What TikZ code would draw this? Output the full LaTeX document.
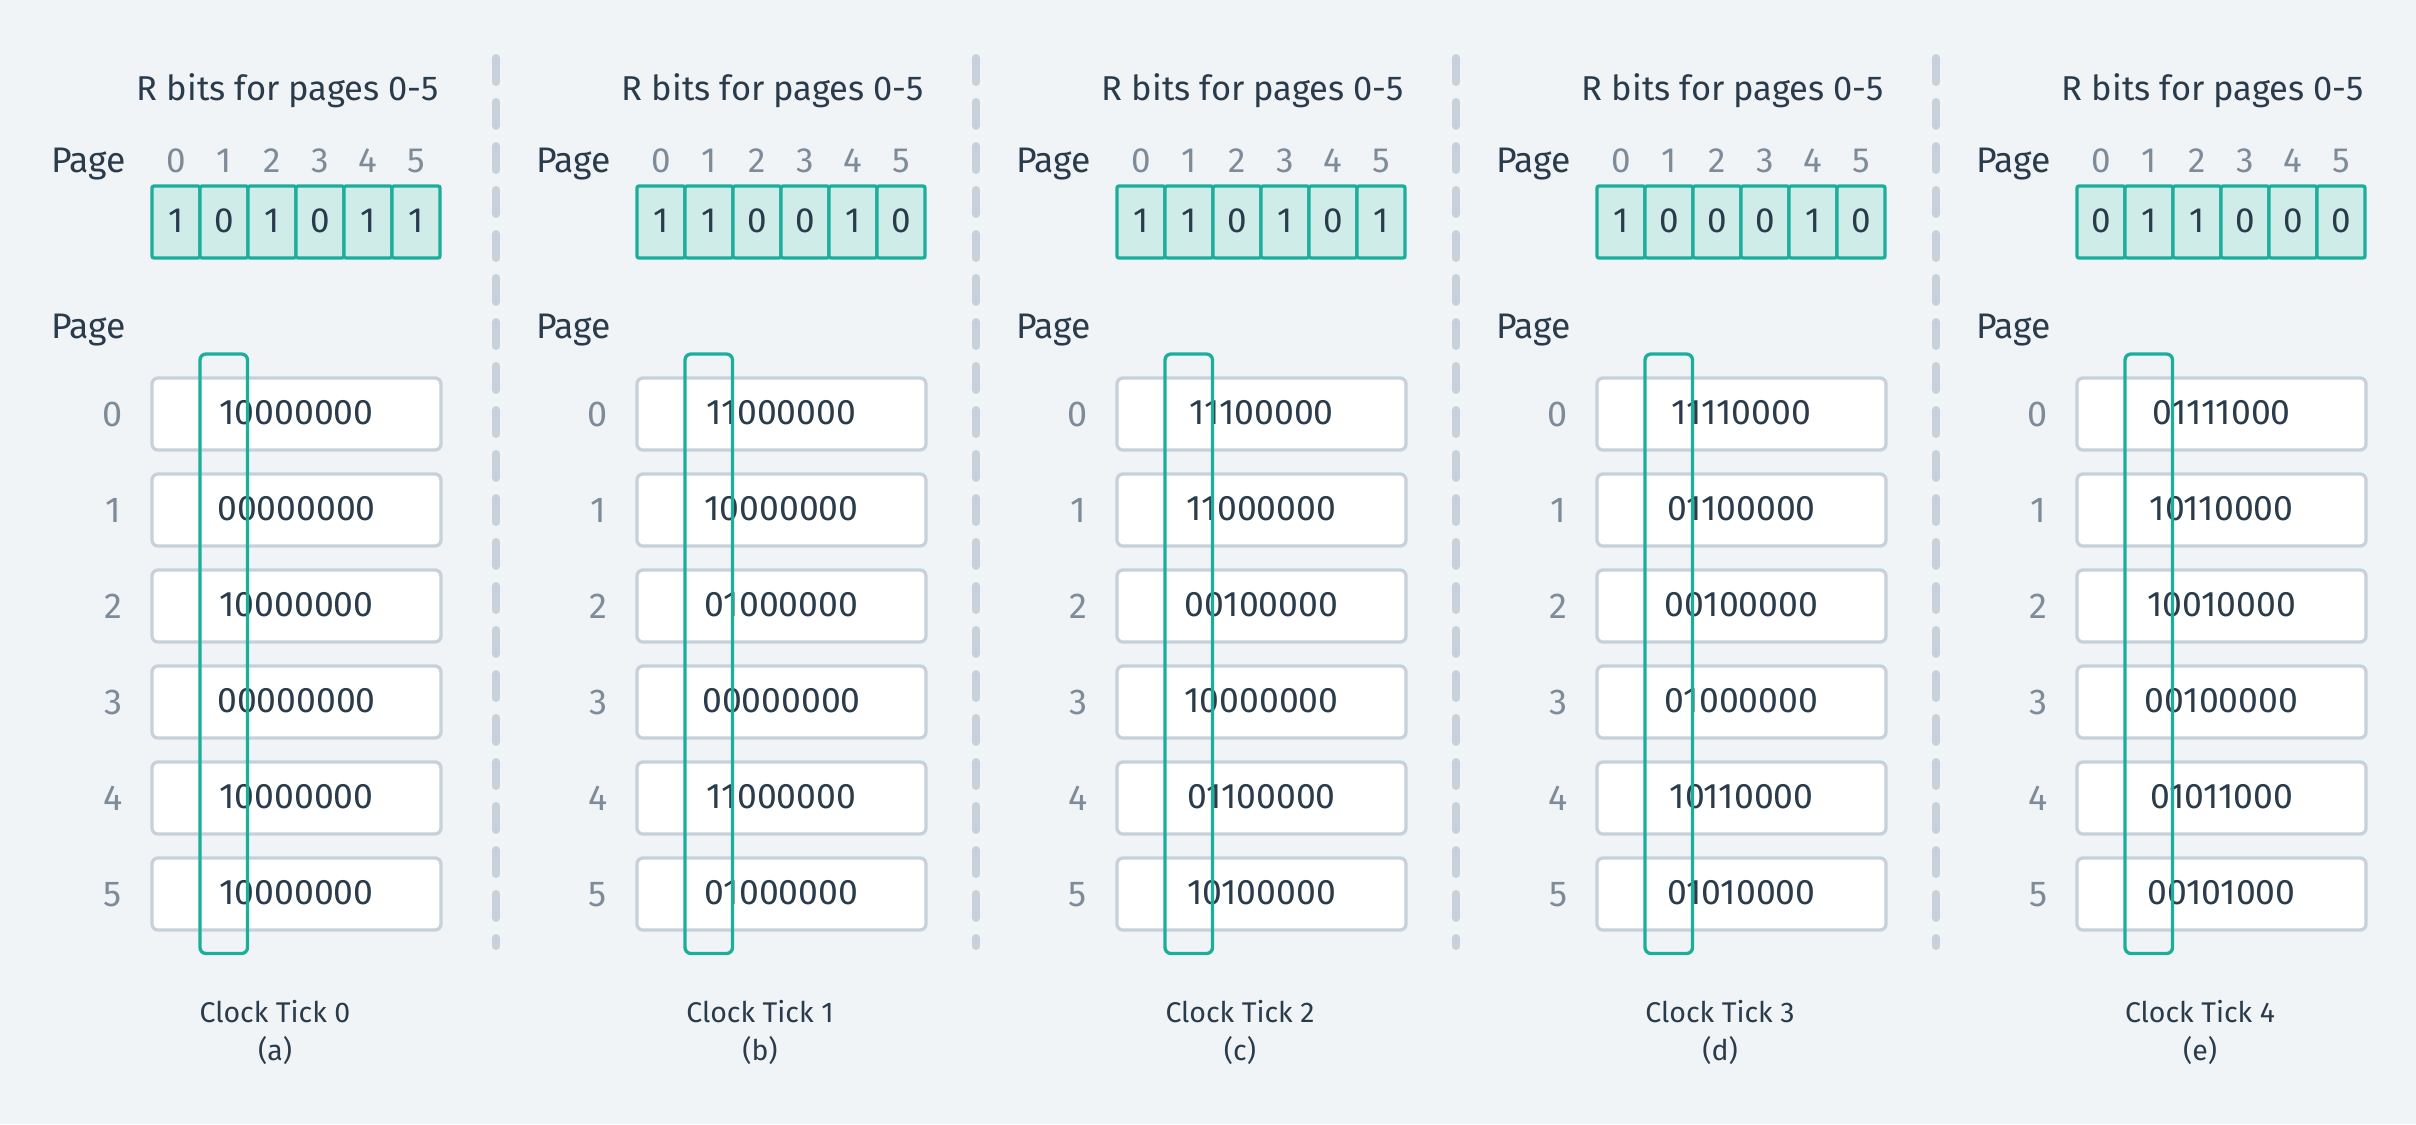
\documentclass[tikz,border=0pt]{standalone}
\usepackage{fontspec}
\setmainfont{Fira Sans}
\definecolor{bgc}{HTML}{F0F4F7}
\definecolor{ink}{HTML}{2A3B4C}
\definecolor{muted}{HTML}{7E8C9A}
\definecolor{tealc}{HTML}{1BAE9B}
\definecolor{tealfill}{HTML}{CFECE9}
\definecolor{boxline}{HTML}{C6D1DB}
\tikzset{
  titletext/.style={text=ink, font=\fontsize{34.5}{40}\selectfont, inner sep=0pt},
  pagetext/.style={text=ink, font=\fontsize{35.5}{40}\selectfont, inner sep=0pt},
  headnum/.style={text=muted, font=\fontsize{35}{38}\selectfont, inner sep=0pt},
  bitcell/.style={draw=tealc, fill=tealfill, line width=3.3pt, rounded corners=2pt,
    minimum width=48pt, minimum height=72pt, inner sep=0pt, text=ink,
    font=\fontsize{35}{38}\selectfont, text height=23pt, text depth=3pt},
  rowbox/.style={draw=boxline, fill=white, line width=3.3pt, rounded corners=6pt,
    minimum width=289pt, minimum height=72pt, inner sep=0pt, text=ink,
    font=\fontsize{35.5}{38}\selectfont, text height=24pt, text depth=3pt},
  rownum/.style={text=muted, font=\fontsize{36}{38}\selectfont, inner sep=0pt,
    text height=24pt, text depth=0pt},
  colhl/.style={draw=tealc, line width=3.3pt, rounded corners=6pt,
    minimum width=47.5pt, minimum height=599.5pt, inner sep=0pt},
  ticktext/.style={text=ink, font=\fontsize{28.5}{32}\selectfont, inner sep=0pt},
  sepline/.style={draw=boxline, line width=8pt, line cap=round, dash pattern=on 24pt off 20pt},
}
\newcommand{\drawpanel}[6]{%
  \begin{scope}[shift={(#1,0)}]
    \node[titletext, anchor=base east] (#2title) at (439,100) {R bits for pages 0-5};
    \node[pagetext, anchor=base west] (#2pagetop) at (51,172) {Page};
    \node[pagetext, anchor=base west] (#2pagebot) at (51,338) {Page};
    \foreach \b [count=\i from 0] in {#3} {
      \node[headnum, anchor=base] (#2h\i) at (176+48*\i,172) {\i};
      \node[bitcell] (#2c\i) at (176+48*\i,222) {\b};
    }
    \foreach \v [count=\r from 0] in {#4} {
      \node[rownum] (#2n\r) at (113,414+96*\r) {\r};
      \node[rowbox] (#2row\r) at (296.5,414+96*\r) {\v};
    }
    \node[colhl] (#2col) at (223.75,653.75) {};
    \node[ticktext, anchor=base] (#2tick) at (275,1022) {#5};
    \node[ticktext, anchor=base] (#2letter) at (275,1060) {#6};
  \end{scope}
}
\begin{document}
\begin{tikzpicture}[x=1pt, y=-1pt]
  \fill[bgc] (0,0) rectangle (2416,1124);
  \useasboundingbox (0,0) rectangle (2416,1124);
  \foreach \sx in {496,976,1456,1936} {
    \draw[sepline] (\sx,58) -- (\sx,946);
  }
  \drawpanel{0}{pa}{1,0,1,0,1,1}{10000000,00000000,10000000,00000000,10000000,10000000}{Clock Tick 0}{(a)}
  \drawpanel{485}{pb}{1,1,0,0,1,0}{11000000,10000000,01000000,00000000,11000000,01000000}{Clock Tick 1}{(b)}
  \drawpanel{965}{pc}{1,1,0,1,0,1}{11100000,11000000,00100000,10000000,01100000,10100000}{Clock Tick 2}{(c)}
  \drawpanel{1445}{pd}{1,0,0,0,1,0}{11110000,01100000,00100000,01000000,10110000,01010000}{Clock Tick 3}{(d)}
  \drawpanel{1925}{pe}{0,1,1,0,0,0}{01111000,10110000,10010000,00100000,01011000,00101000}{Clock Tick 4}{(e)}
\end{tikzpicture}
\end{document}
